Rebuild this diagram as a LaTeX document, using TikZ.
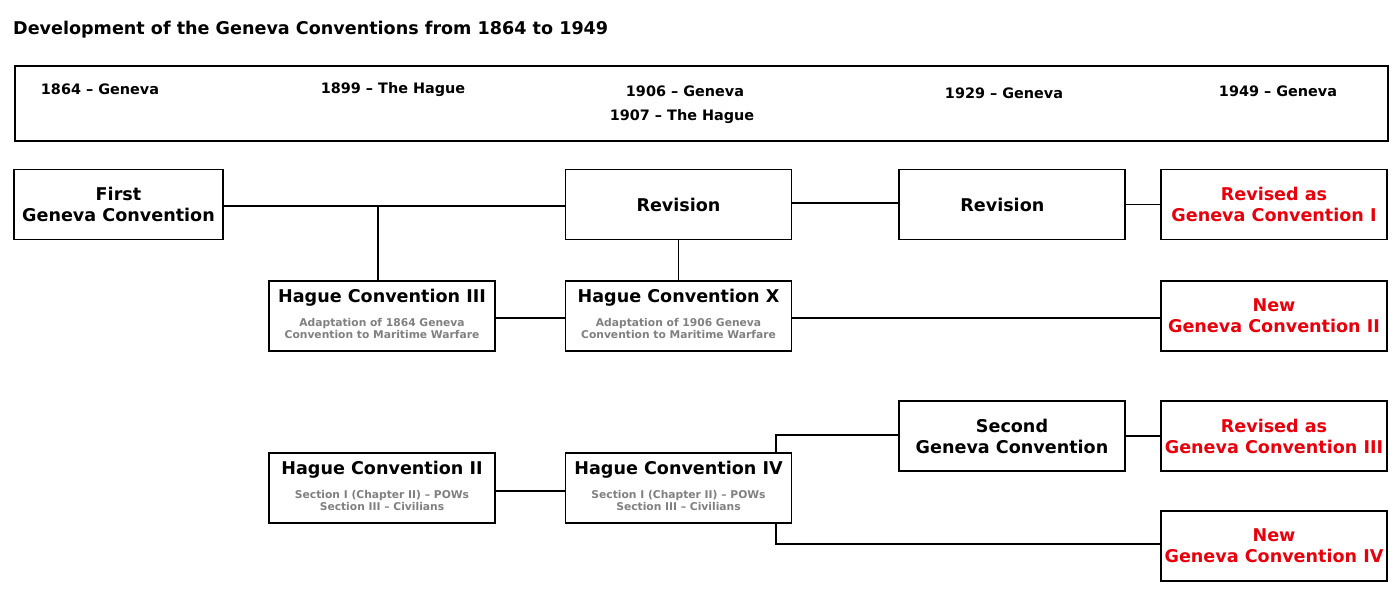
\documentclass[tikz,border=0pt]{standalone}
\usepackage{fontspec}
\setmainfont{DejaVu Sans}
\usetikzlibrary{positioning}
\definecolor{newred}{HTML}{E8000B}
\definecolor{subgray}{HTML}{808080}
\newcommand{\boxfont}{\fontsize{10}{12}\selectfont\bfseries}
\newcommand{\subfont}{\fontsize{6.1}{7.2}\selectfont\bfseries\color{subgray}}
\newcommand{\subtext}[2]{{\subfont\begin{tabular}{@{}c@{}}#1\\#2\end{tabular}}}
\begin{document}
\begin{tikzpicture}[x=0.02cm,y=-0.02cm,
    conv/.style={draw,line width=1.1pt,minimum width=226*0.02cm,minimum height=70*0.02cm,
                 align=center,font=\boxfont,inner sep=0pt},
    result/.style={conv,text=newred},
    year/.style={font=\fontsize{8.2}{10}\selectfont\bfseries},
    link/.style={line width=1.1pt}]
    \useasboundingbox (0,0) rectangle (1400,595);
    % title and timeline
    \node[anchor=west,font=\fontsize{10}{12}\selectfont\bfseries] (title) at (7,30) {Development of the Geneva Conventions from 1864 to 1949};
    \draw[line width=1.1pt] (15,66) rectangle (1388,141);
    \node[year] (y1864) at (100,89) {1864 – Geneva};
    \node[year] (y1899) at (393,90) {1899 – The Hague};
    \node[year] (y1906) at (685,91) {1906 – Geneva};
    \node[year] (y1907) at (682,117) {1907 – The Hague};
    \node[year] (y1929) at (1004,93) {1929 – Geneva};
    \node[year] (y1949) at (1278,91) {1949 – Geneva};

    % conventions
    \node[conv,minimum width=209*0.02cm] (first) at (118.5,204.5) {First\\Geneva Convention};
    \node[conv] (rev1) at (678.5,204.5) {Revision};
    \node[conv] (rev2) at (1012,204.5) {\hspace*{-11pt}Revision};
    \node[result] (gc1) at (1274,204.5) {Revised as\\Geneva Convention I};
    \node[conv] (hc3) at (382,316) {Hague Convention III\\[5pt]\subtext{Adaptation of 1864 Geneva}{Convention to Maritime Warfare}};
    \node[conv] (hcx) at (678.5,316) {Hague Convention X\\[5pt]\subtext{Adaptation of 1906 Geneva}{Convention to Maritime Warfare}};
    \node[result] (gc2) at (1274,316) {New\\Geneva Convention II};
    \node[conv] (second) at (1012,436) {Second\\Geneva Convention};
    \node[result] (gc3) at (1274,436) {Revised as\\Geneva Convention III};
    \node[conv] (hc2) at (382,488) {Hague Convention II\\[5pt]\subtext{Section I (Chapter II) – POWs}{Section III – Civilians}};
    \node[conv] (hc4) at (678.5,488) {Hague Convention IV\\[5pt]\subtext{Section I (Chapter II) – POWs}{Section III – Civilians}};
    \node[result] (gc4) at (1274,546) {New\\Geneva Convention IV};

    % connections
    \draw[link] (first.east |- 0,206) -- (rev1.west |- 0,206);
    \draw[link] (378,206) -- (hc3.north -| 378,0);
    \draw[link] (rev1) -- (hcx);
    \draw[link] (rev1.east |- 0,203) -- (rev2.west |- 0,203);
    \draw[link] (rev2) -- (gc1);
    \draw[link] (hc3.east |- 0,318) -- (hcx.west |- 0,318);
    \draw[link] (hcx.east |- 0,318) -- (gc2.west |- 0,318);
    \draw[link] (hc2.east |- 0,491) -- (hc4.west |- 0,491);
    \draw[link] (second) -- (gc3);
    \draw[link] (second.west |- 0,435) -| (hc4.north -| 776,0);
    \draw[link] (gc4.west |- 0,544) -| (hc4.south -| 776,0);
\end{tikzpicture}
\end{document}
